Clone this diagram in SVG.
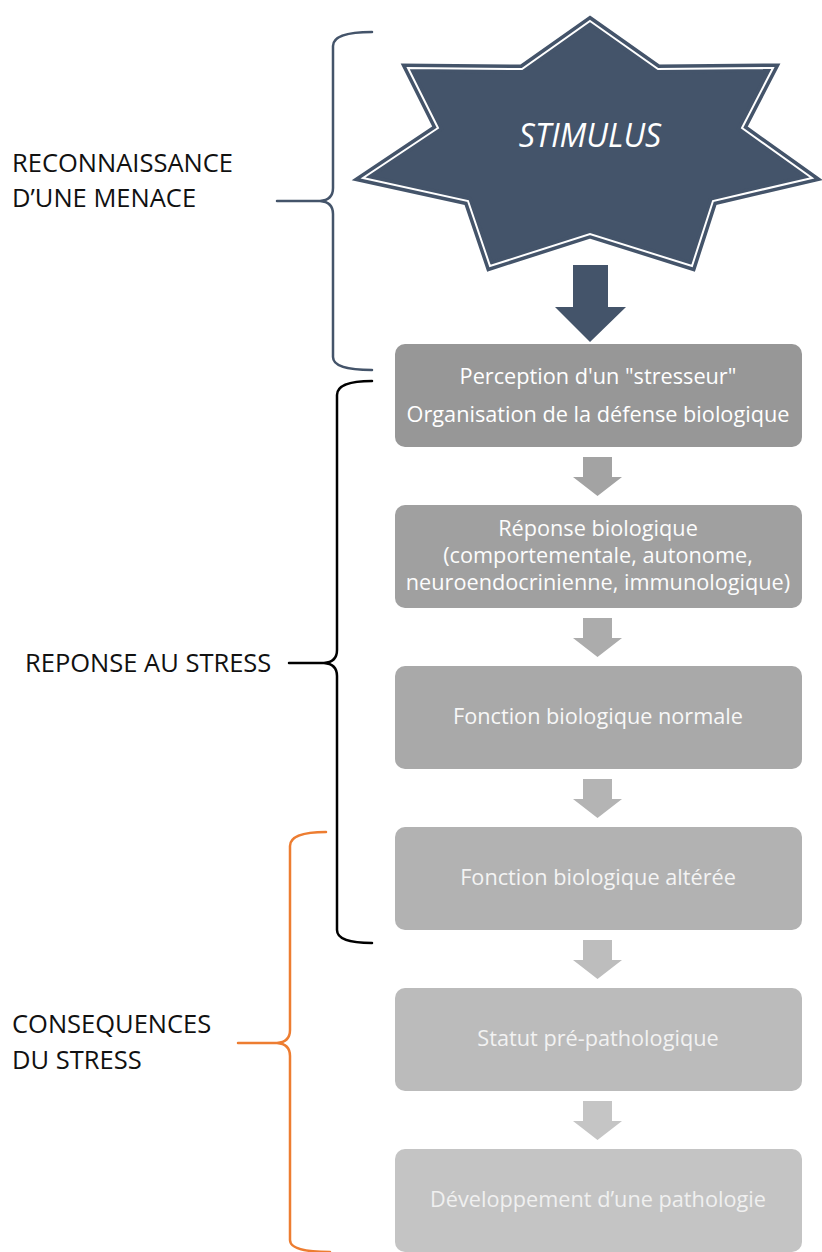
<svg xmlns="http://www.w3.org/2000/svg" width="822" height="1252" viewBox="0 0 822 1252">
<style>
.lbl{font-family:"Open Sans","Liberation Sans",sans-serif;font-size:25.5px;fill:#111}
.bt{font-family:"Open Sans","Liberation Sans",sans-serif;font-size:21.7px;text-anchor:middle}
.brace{fill:none;stroke-width:2.5;stroke-linecap:round;stroke-linejoin:round}
</style>
<rect width="822" height="1252" fill="#fff"/>
<g id="braces">
<path class="brace" stroke="#44546A" d="M372,32 Q333,32 333,46 L333,188 Q333,200 320,201 L277,201 M320,201 Q333,202 333,214 L333,357 Q333,370 372,370"/>
<path class="brace" stroke="#000" d="M372,381 Q337,381 337,395 L337,650 Q337,662 324,663 L289,663 M324,663 Q337,664 337,676 L337,930 Q337,943 372,943"/>
<path class="brace" stroke="#ED7D31" d="M326,832 Q290,832 290,846 L290,1030 Q290,1042 277,1043 L238,1043 M277,1043 Q290,1044 290,1056 L290,1240 Q290,1252 330,1252"/>
</g>
<g id="labels">
<text class="lbl" x="12" y="172">RECONNAISSANCE</text>
<text class="lbl" x="12" y="207">D’UNE MENACE</text>
<text class="lbl" x="25" y="672">REPONSE AU STRESS</text>
<text class="lbl" x="12" y="1033">CONSEQUENCES</text>
<text class="lbl" x="12" y="1069">DU STRESS</text>
</g>
<g id="stimulus">
<polygon points="590,21 658,69 773,68 742,128 812,178 713,201 692,266 590,234 490,266 468,201 363,178 438,128 408,68 522,69" fill="#44546A" stroke="#44546A" stroke-width="9" stroke-linejoin="miter" stroke-miterlimit="10"/>
<polygon points="590,21 658,69 773,68 742,128 812,178 713,201 692,266 590,234 490,266 468,201 363,178 438,128 408,68 522,69" fill="none" stroke="#fff" stroke-width="2" stroke-linejoin="miter" stroke-miterlimit="10"/>
<text x="590" y="147" font-family="'Open Sans','Liberation Sans',sans-serif" font-style="italic" font-size="32" fill="#fff" text-anchor="middle">STIMULUS</text>
</g>
<g id="connectors">
<polygon points="573,265 608,265 608,307 626,307 590,342 555,307 573,307" fill="#44546A"/>
<polygon points="583,457 612,457 612,477 622,477 597.5,496 573,477 583,477" fill="#a3a3a3"/>
<polygon points="583,618 612,618 612,638 622,638 597.5,657 573,638 583,638" fill="#acacac"/>
<polygon points="583,779 612,779 612,799 622,799 597.5,818 573,799 583,799" fill="#b4b4b4"/>
<polygon points="583,940 612,940 612,960 622,960 597.5,979 573,960 583,960" fill="#bdbdbd"/>
<polygon points="583,1101 612,1101 612,1121 622,1121 597.5,1140 573,1121 583,1121" fill="#c5c5c5"/>
</g>
<g id="box1">
<rect x="395" y="344" width="407" height="103" rx="10" fill="#979797"/>
<text class="bt" x="598" y="384" fill="#fff">Perception d'un "stresseur"</text>
<text class="bt" x="598" y="422" fill="#fff">Organisation de la défense biologique</text>
</g>
<g id="box2">
<rect x="395" y="505" width="407" height="103" rx="10" fill="#a0a0a0"/>
<text class="bt" x="598" y="536" fill="#fcfcfc">Réponse biologique</text>
<text class="bt" x="598" y="563" fill="#fcfcfc">(comportementale, autonome,</text>
<text class="bt" x="598" y="590" fill="#fcfcfc">neuroendocrinienne, immunologique)</text>
</g>
<g id="box3">
<rect x="395" y="666" width="407" height="103" rx="10" fill="#a9a9a9"/>
<text class="bt" x="598" y="724" fill="#f8f8f8">Fonction biologique normale</text>
</g>
<g id="box4">
<rect x="395" y="827" width="407" height="103" rx="10" fill="#b2b2b2"/>
<text class="bt" x="598" y="885" fill="#f4f4f4">Fonction biologique altérée</text>
</g>
<g id="box5">
<rect x="395" y="988" width="407" height="103" rx="10" fill="#bbbbbb"/>
<text class="bt" x="598" y="1046" fill="#f2f2f2">Statut pré-pathologique</text>
</g>
<g id="box6">
<rect x="395" y="1149" width="407" height="103" rx="10" fill="#c4c4c4"/>
<text class="bt" x="598" y="1207" fill="#f0f0f0">Développement d’une pathologie</text>
</g>
</svg>
